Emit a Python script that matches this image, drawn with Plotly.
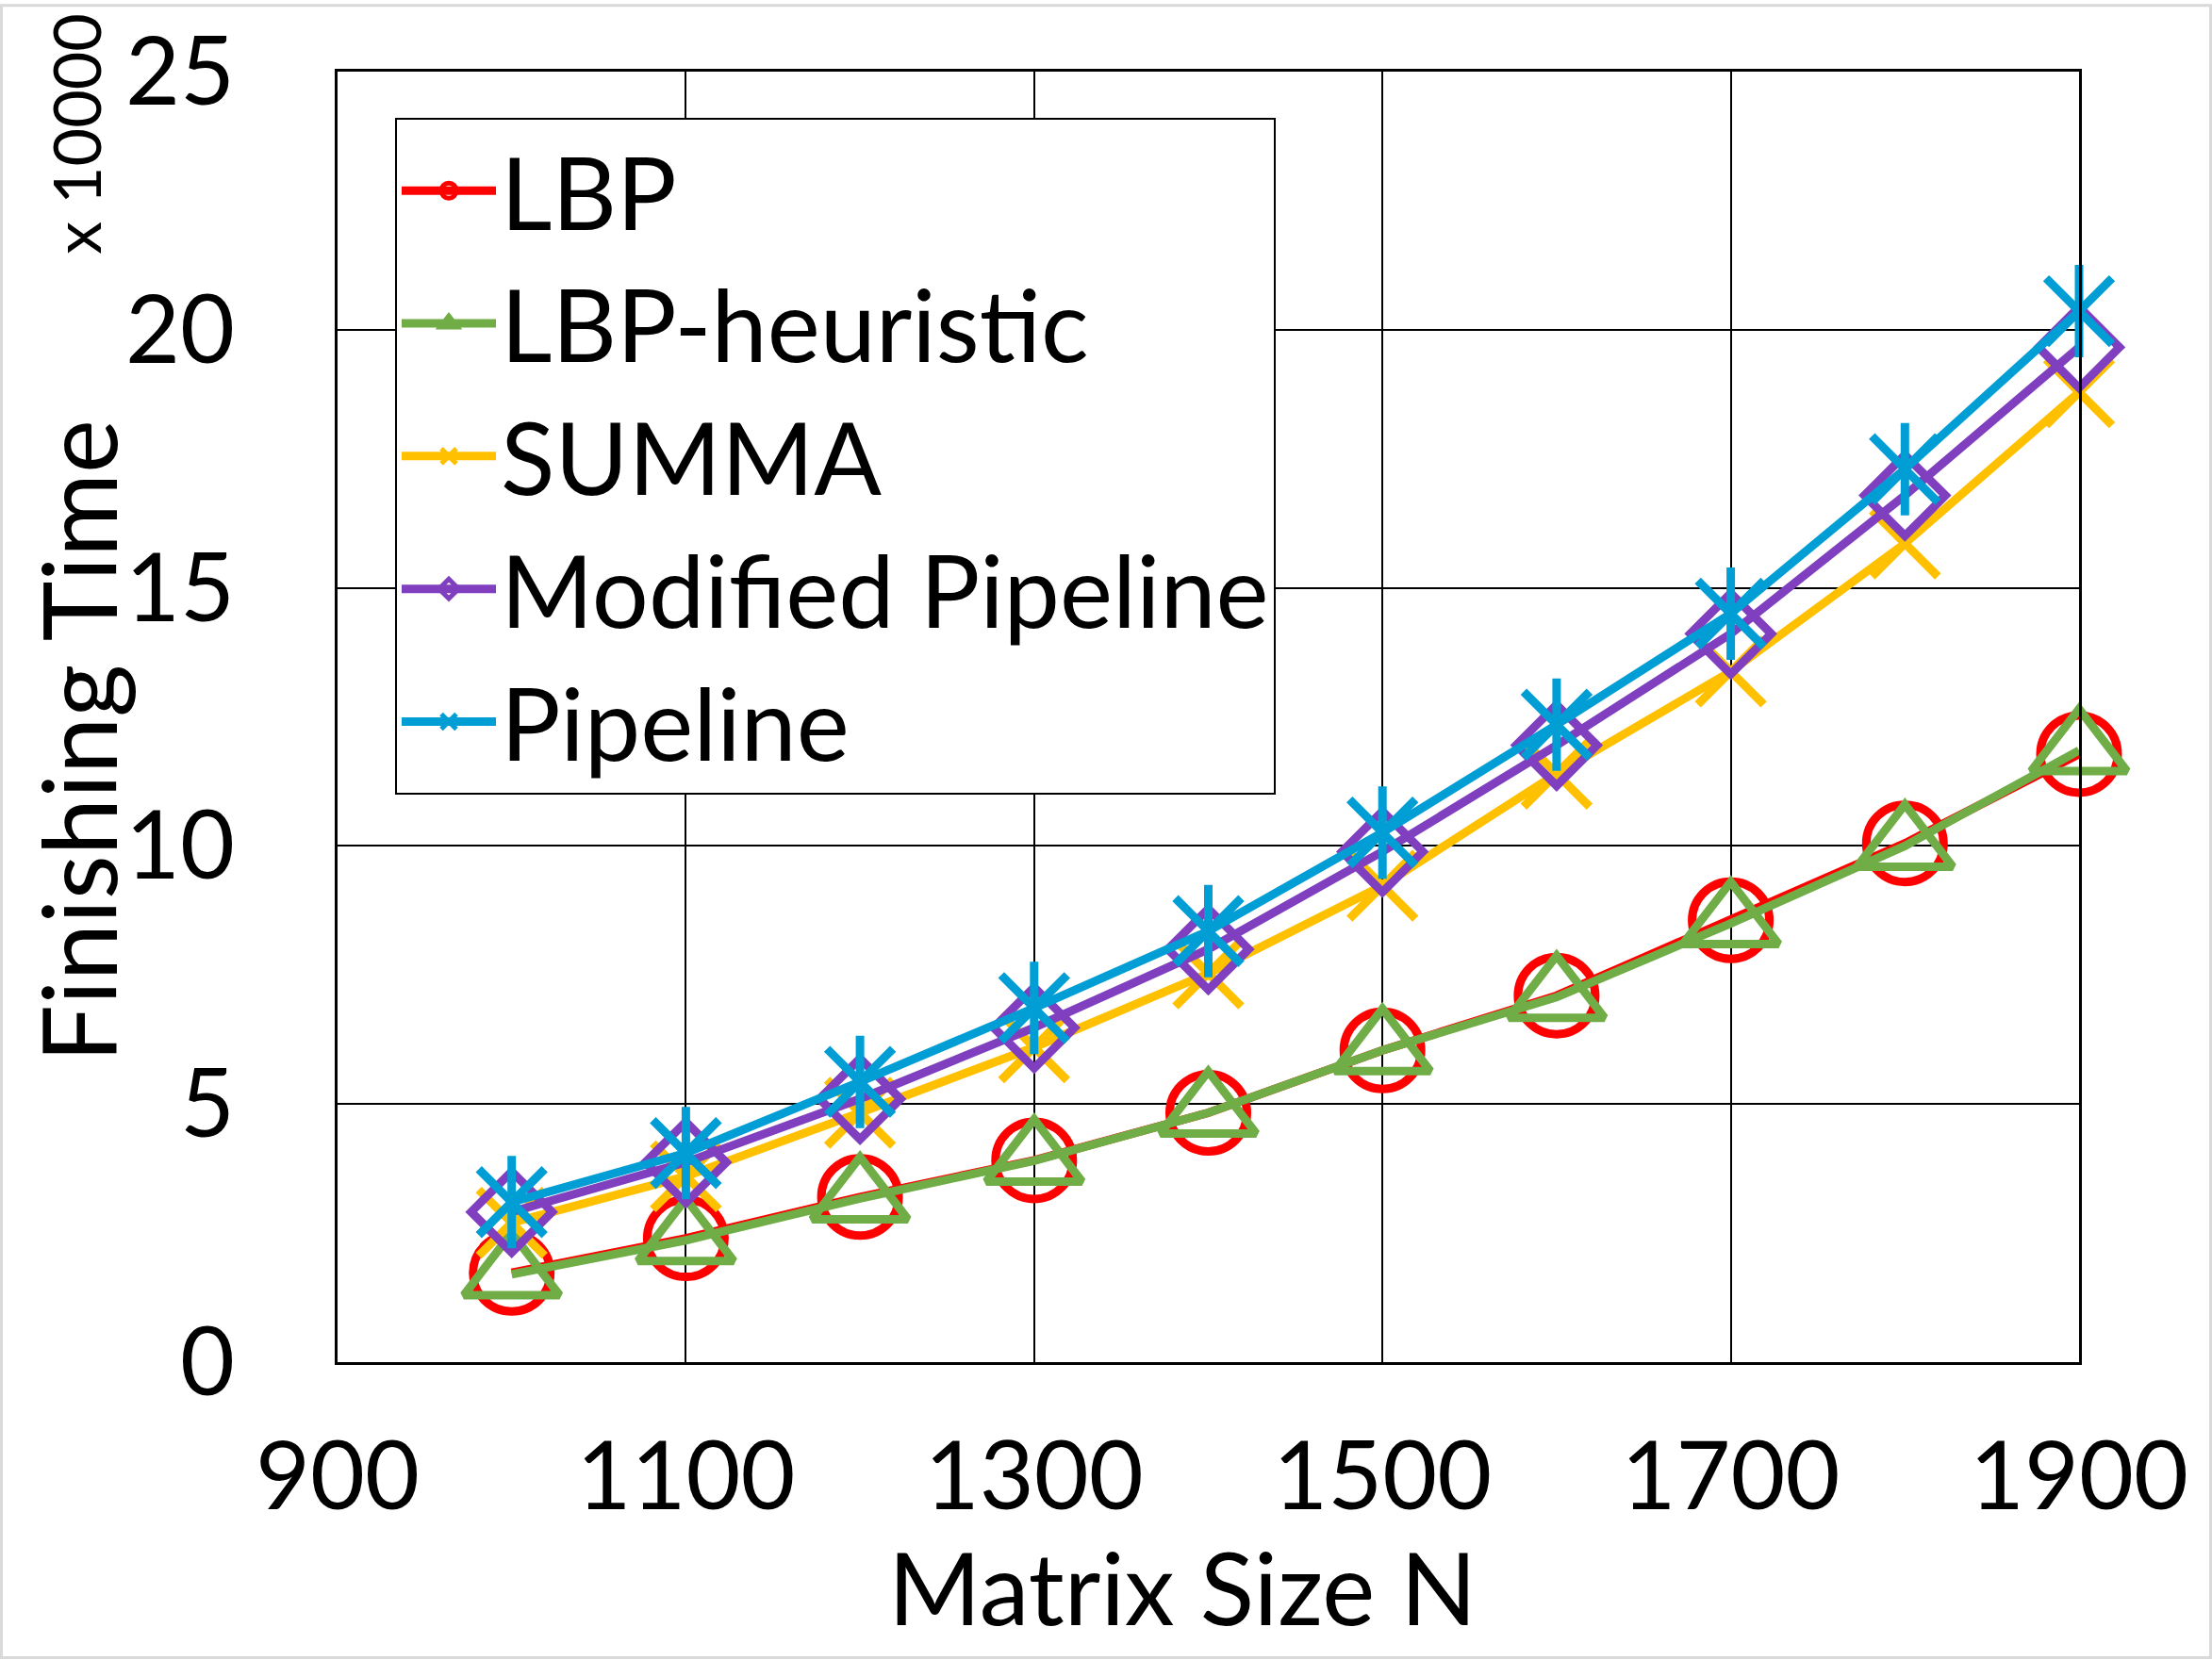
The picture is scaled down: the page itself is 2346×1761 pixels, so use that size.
import plotly.graph_objects as go

# ---- data (values in units of 10000) ----
matrix_size = [1000, 1100, 1200, 1300, 1400, 1500, 1600, 1700, 1800, 1900]
lbp = [1.73, 2.40, 3.20, 3.91, 4.83, 6.04, 7.10, 8.56, 10.05, 11.78]
lbp_heuristic = [1.70, 2.36, 3.17, 3.90, 4.83, 6.04, 7.07, 8.50, 10.00, 11.85]
summa = [2.70, 3.60, 4.83, 6.10, 7.53, 9.23, 11.40, 13.38, 15.86, 18.79]
modified_pipeline = [2.91, 3.87, 5.10, 6.48, 8.00, 9.89, 11.95, 14.11, 16.79, 19.66]
pipeline = [3.10, 4.05, 5.43, 6.86, 8.35, 10.26, 12.35, 14.50, 17.30, 20.36]

x_ticks = [900, 1100, 1300, 1500, 1700, 1900]
y_ticks = [0, 5, 10, 15, 20, 25]

FONT = "Lato"
FS = 100
LW = 9

fig = go.Figure()

def add(name, y, color, symbol, size, group):
    fig.add_trace(go.Scatter(
        x=matrix_size, y=y, name=name, mode="lines+markers",
        legendgroup=group, cliponaxis=False,
        line=dict(color=color, width=LW),
        marker=dict(symbol=symbol, size=size, color=color,
                    line=dict(color=color, width=LW)),
    ))

add("LBP", lbp, "#FF0000", "circle-open", 82, "g1")
add("LBP-heuristic", lbp_heuristic, "#70AD47", "triangle-up-open", 88, "g2")
add("SUMMA", summa, "#FFC000", "x-thin-open", 70, "g3")
add("Modified Pipeline", modified_pipeline, "#7F3FBF", "diamond-open", 66, "g4")
add("Pipeline", pipeline, "#009ED5", "x-thin-open", 70, "g5")
# vertical arm of the Pipeline asterisk markers
fig.add_trace(go.Scatter(
    x=matrix_size, y=pipeline, mode="markers", showlegend=False,
    legendgroup="g5", cliponaxis=False,
    marker=dict(symbol="line-ns-open", size=70, color="#009ED5",
                line=dict(color="#009ED5", width=LW)),
))

W, H = 2346, 1761
L, R, T, B = 358, 141, 72, 316
pw, ph = W - L - R, H - T - B

def px(xp):
    return (xp - L) / pw

def py(yp):
    return (H - B - yp) / ph

fig.update_layout(
    width=W, height=H, autosize=False,
    margin=dict(l=L, r=R, t=T, b=B, pad=0),
    paper_bgcolor="white", plot_bgcolor="white",
    font=dict(family=FONT, size=FS, color="black"),
    showlegend=True,
    legend=dict(
        x=px(419), y=py(121), xanchor="left", yanchor="top",
        bgcolor="white", bordercolor="black", borderwidth=2,
        font=dict(family=FONT, size=106, color="black"),
        tracegroupgap=0, itemwidth=100,
    ),
    xaxis=dict(
        range=[900, 1900], tickvals=x_ticks, ticktext=[str(v) for v in x_ticks],
        showgrid=True, gridcolor="black", gridwidth=2,
        showline=True, linecolor="black", linewidth=3, mirror=True,
        ticks="", ticklabelstandoff=33, zeroline=False,
        tickfont=dict(family=FONT, size=FS, color="black"),
    ),
    yaxis=dict(
        range=[0, 25], tickvals=y_ticks, ticktext=[str(v) for v in y_ticks],
        showgrid=True, gridcolor="black", gridwidth=2,
        showline=True, linecolor="black", linewidth=3, mirror=True,
        ticks="", ticklabelstandoff=86, zeroline=False,
        tickfont=dict(family=FONT, size=FS, color="black"),
    ),
    annotations=[
        dict(text="Finishing Time", xref="paper", yref="paper",
             x=px(82), y=py(784), textangle=-90, showarrow=False,
             xanchor="center", yanchor="middle",
             font=dict(family=FONT, size=108, color="black")),
        dict(text="Matrix Size N", xref="paper", yref="paper",
             x=px(1254), y=py(1684), showarrow=False,
             xanchor="center", yanchor="middle",
             font=dict(family=FONT, size=106, color="black")),
        dict(text="x 10000", xref="paper", yref="paper",
             x=px(80), y=py(138), textangle=-90, showarrow=False,
             xanchor="center", yanchor="middle",
             font=dict(family=FONT, size=70, color="black")),
    ],
    shapes=[
        dict(type="rect", xref="paper", yref="paper",
             x0=px(1.5), x1=px(W - 1.5), y0=py(1.5), y1=py(H - 1.5),
             line=dict(color="#D9D9D9", width=3), layer="below"),
    ],
)

fig.write_html("out.html")
